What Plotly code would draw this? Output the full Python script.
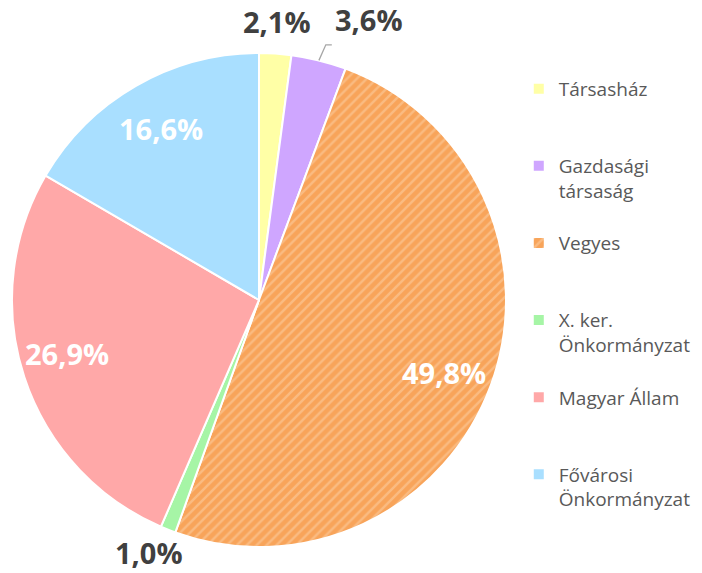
import math
import plotly.graph_objects as go

labels = ["Társasház", "Gazdasági társaság", "Vegyes", "X. ker. Önkormányzat",
          "Magyar Állam", "Fővárosi Önkormányzat"]
legend_labels = ["Társasház", "Gazdasági<br>társaság", "Vegyes", "X. ker.<br>Önkormányzat",
                 "Magyar Állam", "Fővárosi<br>Önkormányzat"]
values = [2.1, 3.6, 49.8, 1.0, 26.9, 16.6]
colors = ["#FFFFA6", "#CFA6FF", "#F8A45A", "#A6F5A6", "#FFA8A8", "#A9DFFF"]
patterns = ["", "", "/", "", "", ""]
label_inside = [False, False, True, False, True, True]

W, H = 702, 573
CX, CY, R = 259, 300, 247

# pad legend entries to equal height (3 lines each)
def pad(s):
    n = s.count("<br>") + 1
    return s + "<br> " * (3 - n)

fig = go.Figure()
fig.add_trace(go.Pie(
    labels=[pad(l) for l in legend_labels],
    values=values,
    sort=False,
    direction="clockwise",
    rotation=0,
    textinfo="none",
    hoverinfo="label+percent",
    marker=dict(colors=colors,
                line=dict(color="white", width=2),
                pattern=dict(shape=patterns, fgcolor="#FCD2A8", bgcolor=colors,
                             size=7, solidity=0.35, fillmode="overlay")),
    domain=dict(x=[(CX - R) / W, (CX + R) / W], y=[1 - (CY + R) / H, 1 - (CY - R) / H]),
))

total = sum(values)
cum = 0.0
radius_factor = [1.13, 1.13, 0.80, 1.10, 0.82, 0.80]
xshift = [0, 42, 0, -10, 0, 0]
yshift = [0, 10, -4, 0, 10, 0]
for i, v in enumerate(values):
    mid = (cum + v / 2) / total * 2 * math.pi
    cum += v
    f = radius_factor[i]
    px = CX + R * f * math.sin(mid)
    py = CY - R * f * math.cos(mid)
    txt = f"{v:.1f}%".replace(".", ",")
    fig.add_annotation(
        x=px / W, y=1 - py / H, xref="paper", yref="paper",
        text=f"<b>{txt}</b>", showarrow=False, xshift=xshift[i], yshift=yshift[i],
        font=dict(family="Open Sans", size=29,
                  color="white" if label_inside[i] else "#404040"),
        xanchor="center", yanchor="middle",
    )
    if i == 1:
        e = (CX + R * 1.0 * math.sin(mid), CY - R * 1.0 * math.cos(mid))
        m = (CX + R * 1.065 * math.sin(mid) + 3, CY - R * 1.065 * math.cos(mid))
        fig.add_shape(type="path", xref="paper", yref="paper",
                      path=f"M {e[0]/W},{1-e[1]/H} L {m[0]/W},{1-m[1]/H} L {(m[0]+6)/W},{1-m[1]/H}",
                      line=dict(color="#A6A6A6", width=1.3))

fig.update_layout(
    width=W, height=H,
    margin=dict(l=0, r=0, t=0, b=0),
    paper_bgcolor="white",
    plot_bgcolor="white",
    showlegend=True,
    legend=dict(x=0.739, y=0.878, xanchor="left", yanchor="top",
                font=dict(family="Open Sans", size=19, color="#595959"),
                valign="top", itemwidth=30, tracegroupgap=0),
)

fig.write_html("out.html")
